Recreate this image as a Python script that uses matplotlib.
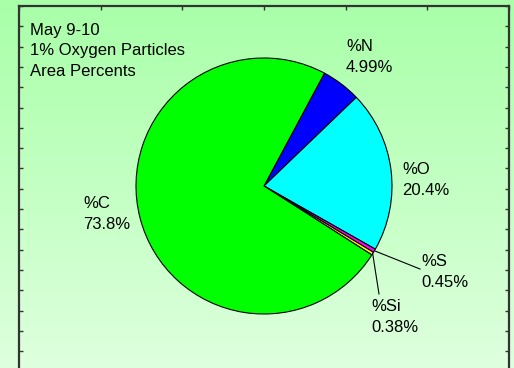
import numpy as np
import matplotlib
matplotlib.use("Agg")
import matplotlib.pyplot as plt

# data, in drawing order (clockwise from the N wedge)
labels = ["%N", "%O", "%S", "%Si", "%C"]
values = [4.99, 20.4, 0.45, 0.38, 73.8]
value_text = ["4.99%", "20.4%", "0.45%", "0.38%", "73.8%"]
colors = ["#0000ff", "#00ffff", "#ff00ff", "#ffff00", "#00ff00"]
title_lines = ["May 9-10", "1% Oxygen Particles", "Area Percents"]

plt.rcParams['font.family'] = ['Liberation Sans', 'DejaVu Sans']

W, H = 514, 368
fig = plt.figure(figsize=(W / 100, H / 100), dpi=100)

# background gradient
bg = fig.add_axes([0, 0, 1, 1])
grad = np.linspace(0, 1, 256).reshape(-1, 1)
top = np.array([168, 255, 168]) / 255
bot = np.array([222, 255, 222]) / 255
img = top + (bot - top) * grad[:, :, None]
bg.imshow(img, aspect='auto', extent=[0, 1, 0, 1])
bg.axis('off')

# framed plot area, works in pixel-like coordinates (y up)
x0, x1 = 19, 509
ytop, ybot = 6, 372
ax = fig.add_axes([x0 / W, 1 - ybot / H, (x1 - x0) / W, (ybot - ytop) / H])
ax.patch.set_alpha(0)

cx, cy, r = 264, 182, 128
wedges, _ = ax.pie(values, colors=colors, startangle=61.8, counterclock=False,
                   center=(cx, cy), radius=r, frame=True,
                   wedgeprops=dict(edgecolor='black', linewidth=0.8))
ax.set_xlim(x0, x1)
ax.set_ylim(H - ybot, H - ytop)
ax.set_aspect('auto')

for sp in ax.spines.values():
    sp.set_color('#333333')
    sp.set_linewidth(1.6)
ax.set_xticks(np.linspace(x0, x1, 7))
ax.set_yticks(np.arange(H - ytop, H - ybot, -20.3))
ax.tick_params(direction='in', length=3, width=1, color='#333333',
               top=True, right=True, bottom=False,
               labelleft=False, labelbottom=False)

fs = 12
ls = 1.5
ax.text(30, 317, "\n".join(title_lines), ha='left', va='center',
        fontsize=fs, linespacing=ls)

label_pos = {"%N": (346, 311), "%O": (402, 188), "%S": (421, 96),
             "%Si": (371, 51), "%C": (83, 154)}
for w, lab, vt in zip(wedges, labels, value_text):
    tx, ty = label_pos[lab]
    ax.text(tx, ty, lab + "\n" + vt, ha='left', va='center',
            fontsize=fs, linespacing=ls)

# leader lines for the thin wedges
leader_end = {"%S": (420, 99), "%Si": (379, 74)}
for w, lab in zip(wedges, labels):
    if lab in leader_end:
        ang = np.deg2rad((w.theta1 + w.theta2) / 2)
        px, py = cx + r * np.cos(ang), cy + r * np.sin(ang)
        ex, ey = leader_end[lab]
        ax.plot([px, ex], [py, ey], color='black', lw=0.8)

fig.savefig("out.png", dpi=100)
